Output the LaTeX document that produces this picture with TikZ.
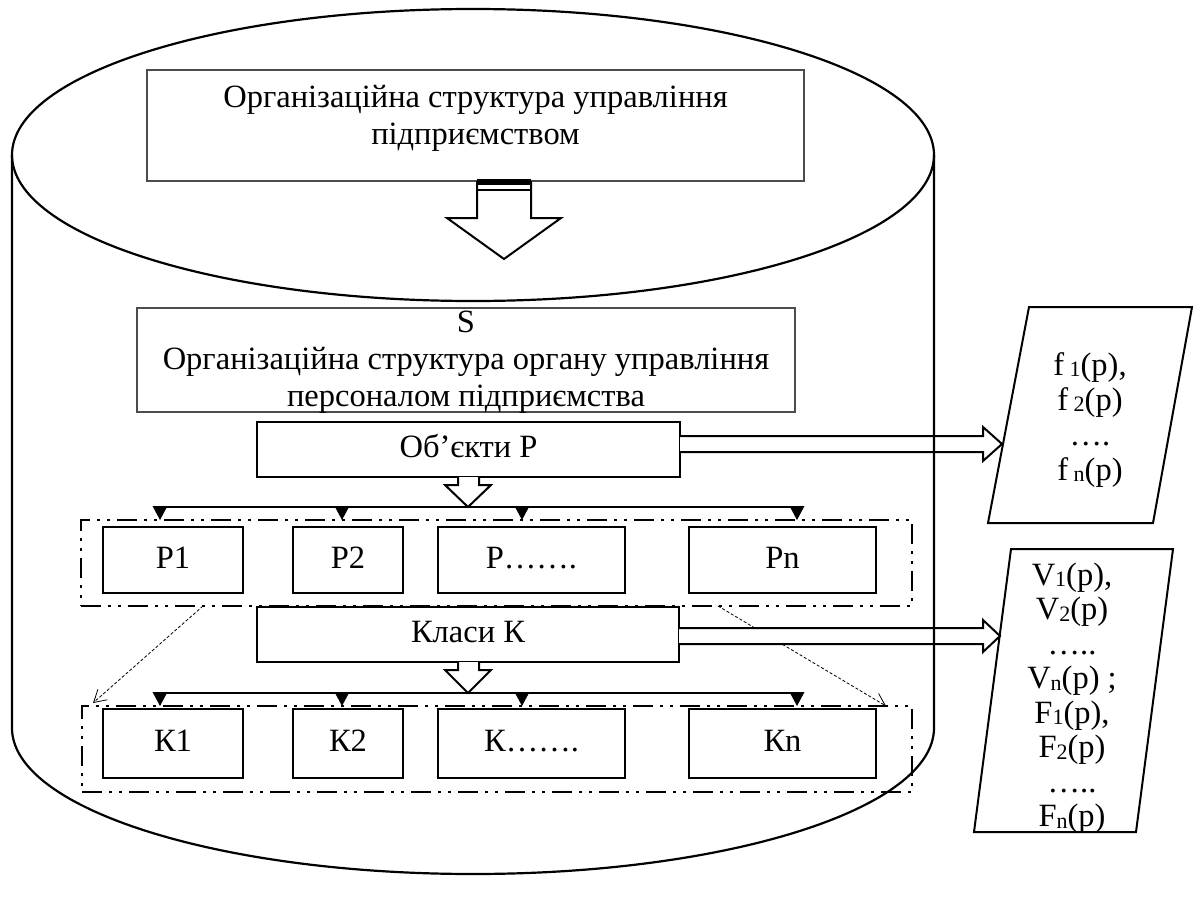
\documentclass[tikz,border=0pt]{standalone}
\usepackage{fontspec}
\setmainfont{Liberation Serif}
\usetikzlibrary{arrows.meta,calc}
% small index written almost on the baseline
\newcommand\idx[1]{{\fontsize{22}{22}\selectfont\raisebox{-1.5pt}{#1}}}

\begin{document}
\begin{tikzpicture}[x=1pt,y=-1pt,
  lbl/.style={font=\fontsize{32.5}{37}\selectfont, align=center, inner sep=0pt},
  thinbox/.style={draw=black!70, line width=1.3pt, fill=white},
  box/.style={draw, line width=2.2pt, fill=white, lbl, text height=22pt, text depth=6pt},
  group/.style={draw, line width=2.6pt,
    dash pattern=on 20pt off 7pt on 3pt off 7pt on 3pt off 7pt},
  blockarrow/.style={draw, line width=2pt, fill=white, line join=miter},
  bus/.style={line width=1.5pt},
  drop/.style={fill=black},
  guide/.style={line width=0.8pt, dash pattern=on 3pt off 2pt,
    -{Straight Barb[length=12pt,width=14pt,line width=0.8pt]}},
  slanted/.style={draw, line width=2pt, fill=white}
]
\useasboundingbox (0,0) rectangle (1194,899);

% ---- top level: enterprise management structure
\node[thinbox, minimum width=657pt, minimum height=111pt] (org) at (475.5,125.5) {};
\node[lbl] (orgtxt) at (475.5,118) {Організаційна структура управління\\підприємством};

% big hollow arrow leaving the top box
\filldraw[blockarrow] (477,181) -- (477,218) -- (447,218) -- (504,259) -- (561,218) -- (531,218) -- (531,181);
\fill (477,179) rectangle (531,185);
\draw[line width=2pt] (477,189.5) -- (531,189.5);

% ---- personnel management body
\node[thinbox, minimum width=658pt, minimum height=104pt] (s) at (466,360) {};
\node[lbl] (stxt) at (466,362) {S\\Організаційна структура органу управління\\персоналом підприємства};

% ---- objects
\node[box, line width=2.6pt, minimum width=423pt, minimum height=55pt] (obj) at (468.5,449.5) {Об’єкти P};

% ---- grouping frames
\node[group, minimum width=831pt, minimum height=86pt] (pgroup) at (496.5,563) {};
\node[group, minimum width=830pt, minimum height=86pt] (kgroup) at (497,749) {};

% dotted guides between the frames
\coordinate (gl1) at (203,606); \coordinate (gl2) at (93,703);
\coordinate (gr1) at (718,606); \coordinate (gr2) at (886,706);
\draw[guide] (gl1) -- (gl2);
\draw[guide] (gr1) -- (gr2);

% ---- object boxes
\node[box, minimum width=140pt, minimum height=66pt] (p1) at (173,560) {P1};
\node[box, minimum width=110pt, minimum height=66pt] (p2) at (348,560) {P2};
\node[box, minimum width=187pt, minimum height=66pt] (pd) at (531.5,560) {P…….};
\node[box, minimum width=187pt, minimum height=66pt] (pn) at (782.5,560) {Pn};

% ---- classes
\node[box, line width=2.6pt, minimum width=422pt, minimum height=55pt] (cls) at (468,634.5) {Класи К};

% ---- class boxes
\node[box, minimum width=140pt, minimum height=69pt] (k1) at (173,743.5) {К1};
\node[box, minimum width=110pt, minimum height=69pt] (k2) at (348,743.5) {К2};
\node[box, minimum width=187pt, minimum height=69pt] (kd) at (531.5,743.5) {К…….};
\node[box, minimum width=187pt, minimum height=69pt] (kn) at (782.5,743.5) {Кn};

% small hollow arrows under objects and classes
\filldraw[blockarrow] (458,477) -- (458,485) -- (445,485) -- (468,507) -- (491,485) -- (479,485) -- (479,477);
\filldraw[blockarrow] (458,662) -- (458,670) -- (445,670) -- (468,693) -- (491,670) -- (479,670) -- (479,662);

% distribution buses with filled drop marks
\coordinate (pbusL) at (160,507); \coordinate (pbusR) at (797,507);
\draw[bus] (pbusL) -- (pbusR);
\foreach \x in {160,342,522,797}
  \fill[drop] (\x-7.5,506) -- (\x+7.5,506) -- (\x,520) -- cycle;
\coordinate (kbusL) at (160,693); \coordinate (kbusR) at (797,693);
\draw[bus] (kbusL) -- (kbusR);
\foreach \x in {160,342,522,797}
  \fill[drop] (\x-7.5,692) -- (\x+7.5,692) -- (\x,706) -- cycle;

% ---- function and value lists
\filldraw[slanted] (1029,307) -- (1192,307) -- (1153,523) -- (988,523) -- cycle;
\node[lbl, font=\fontsize{32.5}{35}\selectfont] (ftxt) at (1090,420)
  {f\,\idx{1}(p),\\f\,\idx{2}(p)\\….\\f\,\idx{n}(p)};
\filldraw[slanted] (1011,549) -- (1173,549) -- (1136,832) -- (974,832) -- cycle;
\node[lbl, font=\fontsize{32.5}{34.5}\selectfont] (vtxt) at (1072,698)
  {V\idx{1}(p),\\V\idx{2}(p)\\…..\\V\idx{n}(p) ;\\F\idx{1}(p),\\F\idx{2}(p)\\…..\\F\idx{n}(p)};

% hollow arrows out to the lists
\filldraw[blockarrow] (680,436) -- (983,436) -- (983,427) -- (1002,444) -- (983,461) -- (983,452) -- (680,452);
\filldraw[blockarrow] (679,628) -- (983,628) -- (983,620) -- (1000,636) -- (983,652) -- (983,644) -- (679,644);

% ---- the cylinder enclosing everything
\draw[line width=2.2pt] (473,155) ellipse [x radius=461, y radius=146];
\draw[line width=2.2pt] (12,155) -- (12,728) arc[start angle=180, end angle=0, x radius=461, y radius=146] -- (934,155);
\end{tikzpicture}
\end{document}
